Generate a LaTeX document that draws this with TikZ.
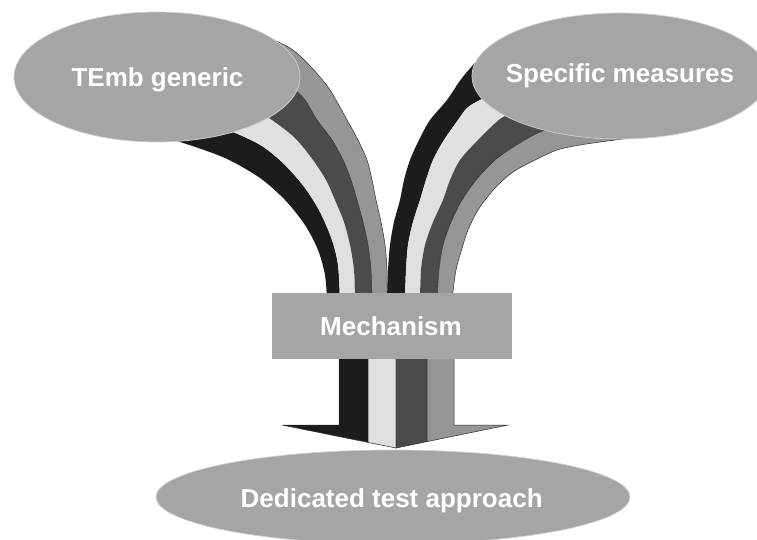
\documentclass[tikz,border=0pt]{standalone}
\usepackage{fontspec}
\setmainfont{Liberation Sans}
\usetikzlibrary{shapes.geometric}
\definecolor{bandblack}{HTML}{1C1C1C}
\definecolor{bandlight}{HTML}{E0E0E0}
\definecolor{banddark}{HTML}{4B4B4B}
\definecolor{bandgray}{HTML}{969696}
\definecolor{shapegray}{HTML}{A5A5A5}
\definecolor{edgeline}{HTML}{2A2A2A}
\definecolor{rimline}{HTML}{D0D0D0}
\begin{document}
\begin{tikzpicture}[x=1pt,y=-1pt,
  oval/.style={ellipse, fill=shapegray, draw=rimline, line width=0.7pt, inner sep=0pt},
  boxshape/.style={rectangle, fill=shapegray, inner sep=0pt},
  lbl/.style={anchor=base, text=white, font=\bfseries\fontsize{26}{30}\selectfont, inner sep=0pt},
  thinedge/.style={draw=edgeline, line width=0.5pt}]
\useasboundingbox (0,0) rectangle (757,540);
\clip (0,0) rectangle (757,540);

% ---- left bundle ----
\fill[bandblack] plot[smooth] coordinates {(170,141) (180,142) (225,158) (260,178) (285,200) (305,225) (318,250) (325,275) (327,300)}
  -- plot[smooth] coordinates {(340,300) (338,265) (332,240) (320,212) (305,188) (285,165) (262,146) (233,132) (215,127)} -- cycle;
\fill[bandlight] plot[smooth] coordinates {(215,127) (233,132) (262,146) (285,165) (305,188) (320,212) (332,240) (338,265) (340,300)}
  -- plot[smooth] coordinates {(355,300) (354,270) (350,245) (344,222) (335,200) (326,180) (313,160) (295,138) (272,120) (255,110)} -- cycle;
\fill[banddark] plot[smooth] coordinates {(255,110) (272,120) (295,138) (313,160) (326,180) (335,200) (344,222) (350,245) (354,270) (355,300)}
  -- plot[smooth] coordinates {(372,300) (371,270) (368,245) (363,222) (357,200) (351,180) (343,160) (332,140) (317,120) (305,100) (290,85)} -- cycle;
\filldraw[fill=bandgray, thinedge] plot[smooth] coordinates {(290,85) (305,100) (317,120) (332,140) (343,160) (351,180) (357,200) (363,222) (368,245) (371,270) (372,300)}
  -- plot[smooth] coordinates {(387,300) (387,270) (385,245) (381,222) (376,200) (372,180) (367,160) (358,140) (347,120) (330,90) (312,68) (293,50) (270,38)} -- cycle;

% ---- right bundle ----
\fill[bandblack] plot[smooth] coordinates {(495,50) (480,58) (462,78) (447,100) (430,120) (419,140) (410,160) (404,180) (400,200) (394,222) (390,245) (388,270) (387,300)}
  -- plot[smooth] coordinates {(405,300) (406,270) (408,245) (413,222) (420,200) (426,180) (433,160) (444,140) (458,120) (467,108) (480,100) (495,95)} -- cycle;
\fill[bandlight] plot[smooth] coordinates {(495,95) (480,100) (467,108) (458,120) (444,140) (433,160) (426,180) (420,200) (413,222) (408,245) (406,270) (405,300)}
  -- plot[smooth] coordinates {(420,300) (421,270) (425,245) (433,222) (443,200) (450,180) (460,160) (478,140) (500,119) (515,112)} -- cycle;
\fill[banddark] plot[smooth] coordinates {(515,112) (500,119) (478,140) (460,160) (450,180) (443,200) (433,222) (425,245) (421,270) (420,300)}
  -- plot[smooth] coordinates {(437,300) (439,270) (443,245) (451,222) (462,200) (476,180) (495,160) (518,144) (540,132) (560,127)} -- cycle;
\filldraw[fill=bandgray, thinedge] plot[smooth] coordinates {(560,127) (540,132) (518,144) (495,160) (476,180) (462,200) (451,222) (443,245) (439,270) (437,300)}
  -- plot[smooth] coordinates {(452,300) (456,270) (463,245) (468,230) (478,210) (495,188) (513,172) (535,160) (557,150) (580,145) (615,140) (640,137)} -- cycle;

% ---- arrow below the mechanism ----
\filldraw[fill=bandblack, thinedge] (339,355) -- (339,425) -- (282,425) -- (368,442.4) -- (368,355) -- cycle;
\filldraw[fill=bandlight, thinedge] (368,355) -- (368,442.4) -- (396,448) -- (396,355) -- cycle;
\filldraw[fill=banddark, thinedge] (396,355) -- (396,448) -- (427,441.6) -- (427,355) -- cycle;
\filldraw[fill=bandgray, thinedge] (427,355) -- (427,441.6) -- (508,425) -- (454,425) -- (454,355) -- cycle;

% ---- shapes ----
\node[oval, minimum width=286pt, minimum height=130pt] (temb) at (157,77) {};
\node[oval, minimum width=296pt, minimum height=126pt] (spec) at (620,76) {};
\node[boxshape, minimum width=240pt, minimum height=66pt] (mech) at (392,326) {};
\node[oval, minimum width=474pt, minimum height=94pt] (ded) at (393,497) {};

\node[lbl] (tembtext) at (157.5,87) {TEmb generic};
\node[lbl] (spectext) at (620,83) {Specific measures};
\node[lbl] (mechtext) at (391,335.7) {Mechanism};
\node[lbl] (dedtext) at (391.7,507) {Dedicated test approach};
\end{tikzpicture}
\end{document}
